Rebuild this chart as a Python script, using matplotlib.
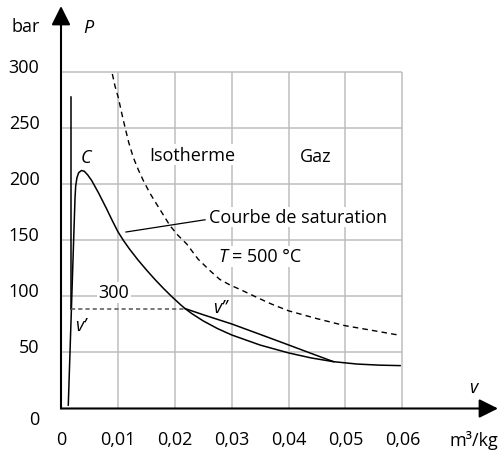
import matplotlib.pyplot as plt

plt.rcParams['font.family'] = ['Open Sans', 'DejaVu Sans']
plt.rcParams['lines.scale_dashes'] = False

# saturation curve (liquid branch -> critical point C -> vapour branch), v in m3/kg, P in bar
sat_v = [0.00128, 0.00246, 0.00258, 0.0028, 0.0031, 0.0036, 0.0041, 0.0047, 0.0054,
         0.0060, 0.0066, 0.0072, 0.0080, 0.0090, 0.0100, 0.0110, 0.0120, 0.0135,
         0.0150, 0.0165, 0.0180, 0.0195, 0.0210, 0.0218, 0.0230, 0.0250, 0.0275,
         0.0300, 0.0350, 0.0400, 0.0440, 0.0479, 0.0520, 0.0560, 0.0596]
sat_p = [3, 187, 198, 205.5, 210, 212, 211.3, 208, 203,
         197.5, 192, 186, 178, 167.5, 157.5, 149.5, 142.3, 132.5,
         123.5, 115, 107, 99.5, 92.5, 89, 84.5, 78, 71.2,
         65.5, 56.5, 49.5, 45, 41.7, 39.6, 38.6, 38.2]

# isotherm 300 °C: liquid part, plateau v' -> v'', superheated part
iso_liq_v = [0.0017, 0.0017]
iso_liq_p = [277.5, 88.5]
plateau_v = [0.0018, 0.0218]
plateau_p = [88.5, 88.5]
iso_gas_v = [0.0218, 0.025, 0.030, 0.035, 0.040, 0.044, 0.0479]
iso_gas_p = [89, 83.5, 75.3, 66, 56.6, 49, 41.7]

# isotherm 500 °C (dashed)
t500_v = [0.00902, 0.00950, 0.01007, 0.01065, 0.01125, 0.0119, 0.0127, 0.0136, 0.01447,
          0.0156, 0.01681, 0.0180, 0.01916, 0.0206, 0.0221, 0.0241, 0.0262, 0.0279,
          0.0297, 0.0315, 0.0344, 0.037, 0.040, 0.045, 0.0499, 0.055, 0.059]
t500_p = [298, 287, 277, 263.5, 250.5, 237, 223.7, 212.5, 203,
          192, 182, 172.3, 162.8, 154, 146.5, 133, 122.7, 115,
          110, 106, 99, 93, 87, 80, 73.8, 69.3, 65.7]

x_ticks = [0, 0.01, 0.02, 0.03, 0.04, 0.05, 0.06]
x_labels = ['0', '0,01', '0,02', '0,03', '0,04', '0,05', '0,06']
y_ticks = [0, 50, 100, 150, 200, 250, 300]

fig = plt.figure(figsize=(4.99, 4.52), dpi=100)
ax = fig.add_axes([0, 0, 1, 1])
ax.set_xlim(-0.01072, 0.076977)
ax.set_ylim(-37.86, 364.75)
ax.axis('off')

grid_kw = dict(color='#bebebe', lw=1.1, zorder=1)
ax.vlines(x_ticks[1:], 0, 300, **grid_kw)
ax.hlines(y_ticks[1:], 0, 0.06, **grid_kw)

# axes with arrow heads
arrow = dict(arrowstyle='-|>,head_length=0.8,head_width=0.4', mutation_scale=14.4,
             lw=1.5, color='black', shrinkA=0, shrinkB=0)
ax.annotate('', xy=(0, 358.5), xytext=(0, 0), arrowprops=arrow, zorder=5)
ax.annotate('', xy=(0.0768, 0), xytext=(0, 0), arrowprops=arrow, zorder=5)

ax.plot(sat_v, sat_p, color='black', lw=1.1, zorder=4)
ax.plot(iso_liq_v, iso_liq_p, color='black', lw=1.1, zorder=4)
ax.plot(plateau_v, plateau_p, color='#555555', lw=1.1, dashes=(3, 2.2), zorder=4)
ax.plot(iso_gas_v, iso_gas_p, color='black', lw=1.1, zorder=4)
ax.plot(t500_v, t500_p, color='black', lw=1.0, dashes=(4, 3), zorder=4)

fs = 13
for t in y_ticks:
    yy = -9.35 if t == 0 else t + 4.5
    ax.text(-0.00378, yy, str(t), ha='right', va='center', fontsize=fs)
for t, lab in zip(x_ticks, x_labels):
    ax.text(t, -27.2, lab, ha='center', va='center', fontsize=fs)

ax.text(-0.00615, 340.7, 'bar', ha='center', va='center', fontsize=fs)
ax.text(0.00475, 340.2, 'P', ha='center', va='center', fontsize=fs, style='italic')
ax.text(0.0724, 19.2, 'v', ha='center', va='center', fontsize=fs, style='italic')
ax.text(0.0768, -27.2, 'm³/kg', ha='right', va='center', fontsize=fs)

white = dict(facecolor='white', edgecolor='none', pad=1)
ax.text(0.0044, 224, 'C', ha='center', va='center', fontsize=fs, style='italic')
ax.text(0.01547, 226, 'Isotherme', ha='left', va='center', fontsize=fs, bbox=white, zorder=3)
ax.text(0.04482, 225.2, 'Gaz', ha='center', va='center', fontsize=fs)
ax.text(0.0260, 170.6, 'Courbe de saturation', ha='left', va='center', fontsize=fs,
        bbox=white, zorder=3)
ax.plot([0.01142, 0.02531], [157.2, 168.1], color='black', lw=0.9, zorder=4)
ax.text(0.02759, 135.6, 'T', ha='left', va='center', fontsize=fs, style='italic',
        bbox=white, zorder=3)
ax.text(0.03005, 135.6, '= 500 °C', ha='left', va='center', fontsize=fs, bbox=white, zorder=3)
ax.text(0.00931, 103.5, '300', ha='center', va='center', fontsize=fs, bbox=white, zorder=3)
ax.text(0.00351, 74.4, 'v’', ha='center', va='center', fontsize=fs, style='italic')
ax.text(0.02794, 90.4, 'v’’', ha='center', va='center', fontsize=fs, style='italic')

fig.savefig('out.png', dpi=100)
